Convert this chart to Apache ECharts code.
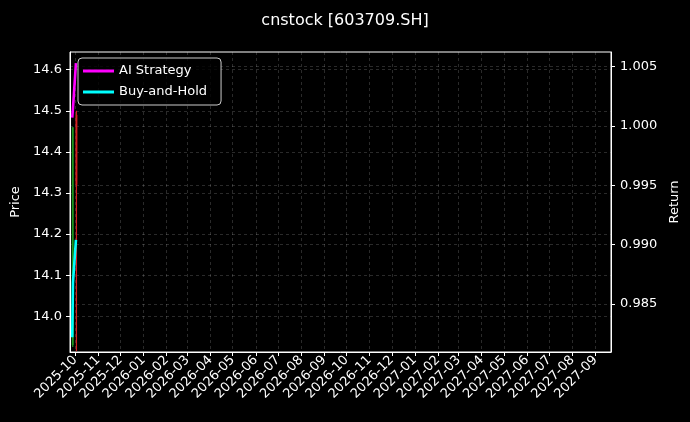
<!DOCTYPE html>
<html>
<head>
<meta charset="utf-8">
<script src="https://cdn.jsdelivr.net/npm/echarts@6/dist/echarts.min.js"></script>
<style>
html,body{margin:0;padding:0;background:#000;}
#chart{width:690px;height:422px;}
</style>
</head>
<body>
<div id="chart"></div>
<script>
// ---- data ----
const lineDates = ['2025-09-27', '2025-09-28', '2025-10-02'];
const aiStrategy = [1.0007, 1.0015, 1.0053];
const buyAndHold = [0.9822, 0.9868, 0.9904];
// candles: date, open, close, low, high
const candleDates = ['2025-09-27', '2025-10-02'];
const candleOpen  = [13.930, 14.490];
const candleClose = [14.460, 14.320];
const candleLow   = [13.925, 13.915];
const candleHigh  = [14.460, 14.500];
const monthTicks = ['2025-10','2025-11','2025-12','2026-01','2026-02','2026-03','2026-04','2026-05','2026-06','2026-07','2026-08','2026-09','2026-10','2026-11','2026-12','2027-01','2027-02','2027-03','2027-04','2027-05','2027-06','2027-07','2027-08','2027-09'];
const priceTicks = [14.0, 14.1, 14.2, 14.3, 14.4, 14.5, 14.6];
const returnTicks = [0.985, 0.990, 0.995, 1.000, 1.005];

function ts(s){ const p = s.split('-').map(Number); return Date.UTC(p[0], p[1]-1, p[2] || 1); }
const monthVals = monthTicks.map(ts);

const candleData = candleDates.map((d,i)=>[ts(d), candleOpen[i], candleClose[i], candleLow[i], candleHigh[i]]);

const font = 'DejaVu Sans';
const gridLine = {show:true, lineStyle:{color:'rgba(255,255,255,0.28)', width:0.6, type:[3,3]}};

const chart = echarts.init(document.getElementById('chart'));
chart.setOption({
  backgroundColor: '#000',
  animation: false,
  textStyle: {fontFamily: font},
  title: {
    text: 'cnstock [603709.SH]', left: 'center', top: 8,
    textStyle: {color:'#fff', fontSize: 16, fontWeight:'normal', fontFamily: font}
  },
  legend: {
    left: 78, top: 58, orient: 'vertical',
    padding: [6, 14, 6, 5],
    itemGap: 7, itemWidth: 31, itemHeight: 3, icon: 'rect',
    borderColor: '#cccccc', borderWidth: 1, borderRadius: 4,
    backgroundColor: 'rgba(0,0,0,0.8)',
    textStyle: {color:'#fff', fontSize: 13, fontFamily: font, lineHeight: 14},
    data: ['AI Strategy', 'Buy-and-Hold']
  },
  grid: {left: 70, right: 79, top: 52, bottom: 70, show: true, borderColor: '#fff', borderWidth: 1, outerBoundsMode: 'none'},
  xAxis: {
    type: 'value',
    min: ts('2025-09-24'), max: ts('2027-09-22'),
    axisLine: {show:true, lineStyle:{color:'#fff'}},
    axisTick: {show:true, inside:false, length:4, customValues: monthVals, lineStyle:{color:'#fff'}},
    axisLabel: {
      customValues: monthVals, rotate: 45, margin: 6, color:'#fff', fontSize: 13, fontFamily: font,
      formatter: v => { const d = new Date(v); return d.getUTCFullYear() + '-' + String(d.getUTCMonth()+1).padStart(2,'0'); }
    },
    splitLine: gridLine
  },
  yAxis: [
    {
      type: 'value', min: 13.913, max: 14.643, position: 'left',
      name: 'Price', nameLocation: 'middle', nameGap: 46, nameRotate: 90,
      nameTextStyle: {color:'#fff', fontSize: 13, fontFamily: font},
      axisLine: {show:true, lineStyle:{color:'#fff'}},
      axisTick: {show:true, length:4, customValues: priceTicks, lineStyle:{color:'#fff'}},
      axisLabel: {customValues: priceTicks, color:'#fff', fontSize: 13, margin: 8, fontFamily: font, formatter: v => v.toFixed(1)},
      splitLine: gridLine
    },
    {
      type: 'value', min: 0.98095, max: 1.00624, position: 'right',
      name: 'Return', nameLocation: 'middle', nameGap: 53, nameRotate: 90,
      nameTextStyle: {color:'#fff', fontSize: 13, fontFamily: font},
      axisLine: {show:true, lineStyle:{color:'#fff'}},
      axisTick: {show:true, length:4, customValues: returnTicks, lineStyle:{color:'#fff'}},
      axisLabel: {customValues: returnTicks, color:'#fff', fontSize: 13, margin: 9, fontFamily: font, formatter: v => v.toFixed(3)},
      splitLine: gridLine
    }
  ],
  series: [
    {
      type: 'custom', name: 'candles', yAxisIndex: 0, xAxisIndex: 0,
      data: candleData,
      encode: {x: 0, y: [1,2,3,4]},
      renderItem: function(params, api){
        const x = api.value(0), o = api.value(1), c = api.value(2), lo = api.value(3), hi = api.value(4);
        const color = c >= o ? '#1f9a1f' : '#d42020';
        const pLo = api.coord([x, lo]), pHi = api.coord([x, hi]);
        const pO = api.coord([x, o]), pC = api.coord([x, c]);
        const w = 2;
        return {
          type: 'group',
          children: [
            {type:'line', shape:{x1:pLo[0]+0.5, y1:pLo[1], x2:pHi[0]+0.5, y2:pHi[1]}, style:{stroke:color, lineWidth:1.2}},
            {type:'rect', shape:{x:pO[0]-w/2+0.5, y:Math.min(pO[1],pC[1]), width:w, height:Math.abs(pO[1]-pC[1])}, style:{fill:color, opacity:0.85}}
          ]
        };
      },
      z: 2
    },
    {
      type: 'line', name: 'AI Strategy', yAxisIndex: 1,
      data: lineDates.map((d,i)=>[ts(d), aiStrategy[i]]),
      showSymbol: false, lineStyle: {color:'#ff00ff', width: 2.6}, itemStyle:{color:'#ff00ff'}, z: 3
    },
    {
      type: 'line', name: 'Buy-and-Hold', yAxisIndex: 1,
      data: lineDates.map((d,i)=>[ts(d), buyAndHold[i]]),
      showSymbol: false, lineStyle: {color:'#00ffff', width: 2.6}, itemStyle:{color:'#00ffff'}, z: 3
    }
  ]
});
</script>
</body>
</html>
